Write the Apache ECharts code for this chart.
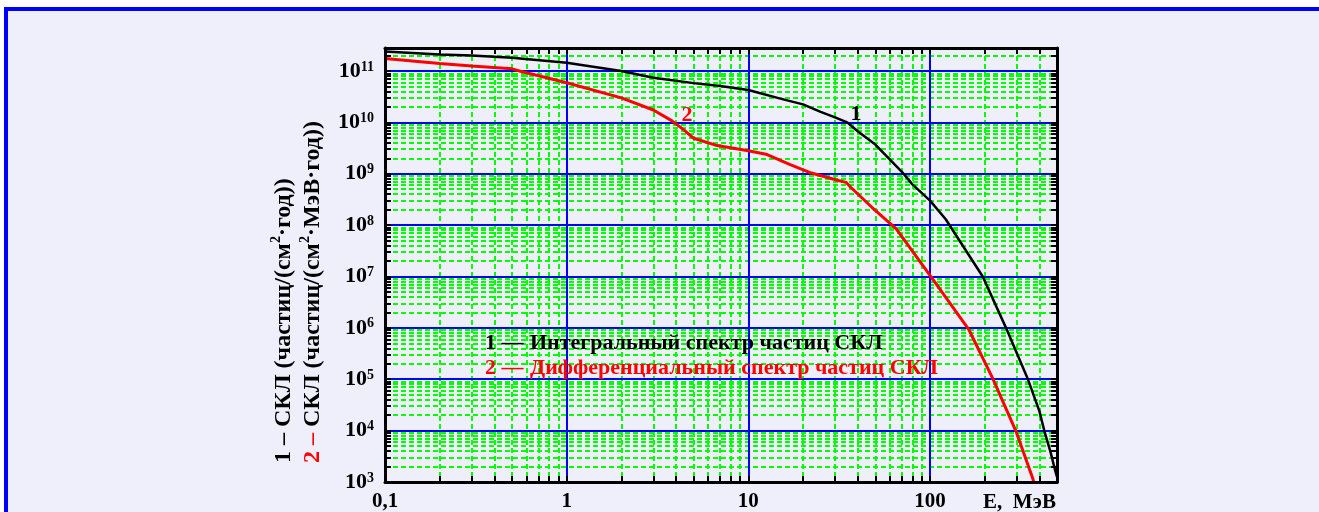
<!DOCTYPE html>
<html>
<head>
<meta charset="utf-8">
<script src="https://cdn.jsdelivr.net/npm/echarts@6/dist/echarts.min.js"></script>
<style>
  html, body { margin: 0; padding: 0; background: #fff; }
  .frame {
    position: absolute; left: 4px; top: 7px; width: 1400px; height: 560px;
    border-left: 4px solid #0000ff; border-top: 4px solid #0000ff;
    background: #efeffb;
  }
  #chart { position: absolute; left: 0; top: 0; width: 1319px; height: 512px; }
</style>
</head>
<body>
<div class="frame"></div>
<div id="chart"></div>
<script>
// curve 1: integral SEP spectrum (E, MeV -> particles/(cm2*year))
const intE = [0.1, 0.2, 0.3, 0.5, 1, 2, 3, 5, 7, 10, 15, 20, 25, 30, 35, 40, 50, 60, 70, 80, 100, 122, 150, 195, 262, 344, 400, 426, 460, 490, 500]
const intFlux = [2.4e11, 2.1e11, 2.0e11, 1.8e11, 1.44e11, 1.0e11, 7.4e10, 5.8e10, 5.1e10, 4.25e10, 2.9e10, 2.24e10, 1.6e10, 1.25e10, 1.0e10, 6.7e9, 3.7e9, 1.9e9, 1.09e9, 6.2e8, 3.0e8, 1.3e8, 4.2e7, 1.0e7, 1.0e6, 1.05e5, 2.4e4, 9.8e3, 3.9e3, 1.6e3, 1.25e3]

// curve 2: differential SEP spectrum
const difE = [0.1, 0.2, 0.3, 0.5, 0.55, 1, 2, 3, 3.8, 4.4, 5, 6.6, 10, 12.5, 17, 21.7, 31.7, 34.5, 36.7, 48, 65, 100, 164, 221, 297, 367, 372]
const difFlux = [1.75e11, 1.4e11, 1.25e11, 1.1e11, 1.0e11, 5.9e10, 3.0e10, 1.74e10, 1.07e10, 7.2e9, 4.9e9, 3.6e9, 2.8e9, 2.4e9, 1.5e9, 1.06e9, 7.3e8, 6.8e8, 5.4e8, 2.2e8, 8.5e7, 1.05e7, 9.1e5, 1.05e5, 9.8e3, 1.2e3, 1.0e3]

// tick labels
const xLabelValues = [0.1, 1, 10, 100]
const xLabelTexts = ['0,1', '1', '10', '100']
const yLabelValues = [1e3, 1e4, 1e5, 1e6, 1e7, 1e8, 1e9, 1e10, 1e11]
const yLabelExp = ['3', '4', '5', '6', '7', '8', '9', '10', '11']

const X_MIN = 0.1
const X_MAX = 500
const Y_MIN = 1e3
const Y_MAX = 2.8e11

// minor grid positions: 1..9 of every decade
function decadeTicks(lo, hi) {
  const out = []
  for (let d = lo; d <= hi; d *= 10) {
    for (let k = 1; k <= 9; k++) {
      out.push(+(d * k).toPrecision(3))
    }
  }
  return out
}
const xTicks = decadeTicks(0.1, 100).filter(v => v <= X_MAX)
const yTicks = decadeTicks(1e3, 1e11).filter(v => v <= Y_MAX)

const SERIF = '"Liberation Serif", "Times New Roman", serif'
const BLACK = '#000000'
const RED = '#ff0000'

const chart = echarts.init(document.getElementById('chart'), null, { renderer: 'canvas' })

function logAxis(extra, min, max) {
  return Object.assign({
    type: 'log',
    logBase: 10,
    min: min,
    max: max,
    axisLine: { show: false, onZero: false },
    axisTick: { show: false },
    axisLabel: { show: false },
    splitLine: { show: false }
  }, extra)
}

const greenLine = { show: true, lineStyle: { color: '#00ff00', width: 2, type: [5, 3] } }
const blueLine = { show: true, lineStyle: { color: '#0000ff', width: 2, type: 'solid' } }
const frameLine = { show: true, onZero: false, lineStyle: { color: BLACK, width: 3 } }
const frameTick = (vals) => ({ show: true, inside: true, length: 6, customValues: vals, lineStyle: { color: BLACK, width: 2 } })

const xAxes = [
  // main axis: labels + green minor grid
  logAxis({
    position: 'bottom', z: 0,
    axisTick: { show: false, customValues: xTicks },
    axisLabel: {
      show: true, margin: 9, customValues: xLabelValues,
      formatter: v => xLabelTexts[xLabelValues.findIndex(t => Math.abs(t - v) / t < 1e-6)] || '',
      color: BLACK, fontFamily: SERIF, fontWeight: 'bold', fontSize: 21
    },
    splitLine: greenLine
  }, X_MIN, X_MAX),
  logAxis({ position: 'bottom', z: 1, axisTick: { show: false, customValues: xLabelValues }, splitLine: blueLine }, X_MIN, X_MAX),
  logAxis({ position: 'bottom', z: 3, axisLine: frameLine, axisTick: frameTick(xTicks) }, X_MIN, X_MAX),
  logAxis({ position: 'top', z: 3, axisLine: frameLine, axisTick: frameTick(xTicks) }, X_MIN, X_MAX)
]

const yAxes = [
  logAxis({
    position: 'left', z: 0,
    axisTick: { show: false, customValues: yTicks },
    axisLabel: {
      show: true, margin: 11, customValues: yLabelValues,
      formatter: v => '{b|10}{e|' + yLabelExp[yLabelValues.findIndex(t => Math.abs(t - v) / t < 1e-6)] + '}',
      rich: {
        b: { color: BLACK, fontFamily: SERIF, fontWeight: 'bold', fontSize: 22, lineHeight: 22 },
        e: { color: BLACK, fontFamily: SERIF, fontWeight: 'bold', fontSize: 14, lineHeight: 6, verticalAlign: 'top' }
      }
    },
    splitLine: greenLine
  }, Y_MIN, Y_MAX),
  logAxis({ position: 'left', z: 1, axisTick: { show: false, customValues: yLabelValues }, splitLine: blueLine }, Y_MIN, Y_MAX),
  logAxis({ position: 'left', z: 3, axisLine: frameLine, axisTick: frameTick(yTicks) }, Y_MIN, Y_MAX),
  logAxis({ position: 'right', z: 3, axisLine: frameLine, axisTick: frameTick(yTicks) }, Y_MIN, Y_MAX)
]

const txt = (x, y, text, fill, size, align) => ({
  type: 'text', x: x, y: y, z: 10,
  style: { text: text, fill: fill, font: 'bold ' + size + 'px ' + SERIF, align: align || 'left', verticalAlign: 'middle' }
})

chart.setOption({
  backgroundColor: 'transparent',
  animation: false,
  grid: { left: 385, top: 48, width: 672, height: 436, containLabel: false },
  xAxis: xAxes,
  yAxis: yAxes,
  series: [
    {
      name: 'integral',
      type: 'line',
      xAxisIndex: 0, yAxisIndex: 0, z: 2,
      data: intE.map((e, i) => [e, intFlux[i]]),
      showSymbol: false,
      clip: true,
      lineStyle: { color: BLACK, width: 2.5 }
    },
    {
      name: 'differential',
      type: 'line',
      xAxisIndex: 0, yAxisIndex: 0, z: 2,
      data: difE.map((e, i) => [e, difFlux[i]]),
      showSymbol: false,
      clip: true,
      lineStyle: { color: RED, width: 3 }
    }
  ],
  graphic: [
    txt(856, 114, '1', BLACK, 22, 'center'),
    txt(687, 115, '2', RED, 22, 'center'),
    txt(485, 343, '1 —', BLACK, 22),
    txt(530, 343, 'Интегральный спектр частиц СКЛ', BLACK, 22),
    txt(485, 368, '2 —', RED, 22),
    txt(530, 368, 'Дифференциальный спектр частиц СКЛ', RED, 22),
    txt(983, 503, 'E,  МэВ', BLACK, 21),
    {
      type: 'text', x: 269, y: 463, rotation: Math.PI / 2, z: 10,
      style: {
        text: '{a|1 – СКЛ (частиц/(см}{s|2}{a|·год))}\n{r|2 –}{a| СКЛ (частиц/(см}{s|2}{a|·МэВ·год))}',
        align: 'left', verticalAlign: 'top',
        rich: {
          a: { fill: BLACK, font: 'bold 24px ' + SERIF, lineHeight: 29 },
          r: { fill: RED, font: 'bold 24px ' + SERIF, lineHeight: 29 },
          s: { fill: BLACK, font: 'bold 14px ' + SERIF, lineHeight: 14, verticalAlign: 'top' }
        }
      }
    }
  ]
})
</script>
</body>
</html>
